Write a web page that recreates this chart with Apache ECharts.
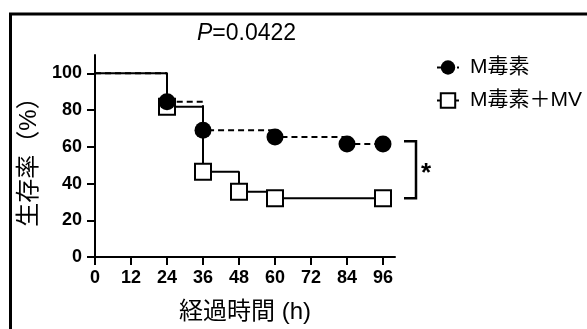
<!DOCTYPE html>
<html>
<head>
<meta charset="utf-8">
<script src="https://cdn.jsdelivr.net/npm/echarts@6/dist/echarts.min.js"></script>
<style>
  html, body { margin: 0; padding: 0; background: #fff; }
  #chart { width: 587px; height: 329px; }
</style>
</head>
<body>
<div id="chart"></div>
<script>
// survival data (hours, % survival)
const timesMtox = [0, 24, 36, 60, 84, 96];
const survMtox = [100, 84.6, 69, 65.4, 61.5, 61.5];
const timesMtoxMV = [0, 24, 36, 48, 60, 96];
const survMtoxMV = [100, 81.8, 46.4, 35.5, 32, 32];

const xTicks = [0, 12, 24, 36, 48, 60, 72, 84, 96];
const yTicks = [0, 20, 40, 60, 80, 100];
const seriesNames = ['M毒素', 'M毒素＋MV'];

const FONT = '"Liberation Sans", Arial, "Noto Sans CJK JP", sans-serif';

// first point (t=0) carries no marker
const toPoints = (ts, ys) => ts.map((t, i) => i === 0 ? { value: [t, ys[i]], symbol: 'none' } : [t, ys[i]]);

const chart = echarts.init(document.getElementById('chart'));

const option = {
  animation: false,
  title: {
    text: '{i|P}=0.0422',
    left: 192,
    top: 17,
    textStyle: {
      fontFamily: FONT,
      fontSize: 23,
      fontWeight: 'normal',
      color: '#000',
      rich: {
        i: { fontFamily: FONT, fontSize: 23, fontStyle: 'italic', color: '#000' }
      }
    }
  },
  legend: {
    data: seriesNames,
    orient: 'vertical',
    left: 431,
    top: 52,
    itemWidth: 22,
    itemHeight: 18,
    itemGap: 12,
    textStyle: { fontFamily: FONT, fontSize: 21, color: '#000', padding: [0, 0, 0, 6] }
  },
  grid: { left: 95, right: 192, top: 55, bottom: 72 },
  xAxis: {
    type: 'value',
    min: 0,
    max: 100,
    name: '経過時間 (h)',
    nameLocation: 'middle',
    nameGap: 43,
    nameTextStyle: { fontFamily: FONT, fontSize: 24, color: '#000' },
    splitLine: { show: false },
    axisLine: { lineStyle: { color: '#000', width: 2 } },
    axisTick: { customValues: xTicks, length: 8, lineStyle: { color: '#000', width: 2 } },
    axisLabel: {
      customValues: xTicks,
      margin: 12,
      fontFamily: FONT,
      fontSize: 18,
      fontWeight: 'bold',
      color: '#000'
    }
  },
  yAxis: {
    type: 'value',
    min: 0,
    max: 110,
    name: '生存率（%）',
    nameLocation: 'middle',
    nameRotate: 90,
    nameGap: 52,
    nameTextStyle: { fontFamily: FONT, fontSize: 24, color: '#000' },
    splitLine: { show: false },
    axisLine: { show: true, lineStyle: { color: '#000', width: 2 } },
    axisTick: { show: true, customValues: yTicks, length: 8, lineStyle: { color: '#000', width: 2 } },
    axisLabel: {
      customValues: yTicks,
      margin: 13,
      fontFamily: FONT,
      fontSize: 18,
      fontWeight: 'bold',
      color: '#000'
    }
  },
  series: [
    {
      name: seriesNames[0],
      type: 'line',
      step: 'end',
      z: 4,
      data: toPoints(timesMtox, survMtox),
      symbol: 'circle',
      symbolSize: 17,
      itemStyle: { color: '#000' },
      lineStyle: { color: '#000', width: 2, type: [6, 4] },
      emphasis: { disabled: true }
    },
    {
      name: seriesNames[1],
      type: 'line',
      step: 'end',
      z: 3,
      data: toPoints(timesMtoxMV, survMtoxMV),
      symbol: 'rect',
      symbolSize: 16,
      itemStyle: { color: '#fff', borderColor: '#000', borderWidth: 2 },
      lineStyle: { color: '#000', width: 2 },
      emphasis: { disabled: true }
    }
  ]
};

chart.setOption(option);

// significance bracket and frame drawn after layout
const bx = [103, 107];
const by = [63, 32];
const p1 = chart.convertToPixel({ gridIndex: 0 }, [bx[0], by[0]]);
const p2 = chart.convertToPixel({ gridIndex: 0 }, [bx[1], by[1]]);

chart.setOption({
  graphic: [
    {
      type: 'polyline',
      shape: { points: [[p1[0], p1[1]], [p2[0], p1[1]], [p2[0], p2[1]], [p1[0], p2[1]]] },
      style: { stroke: '#000', lineWidth: 2.5, fill: null }
    },
    {
      type: 'text',
      x: p2[0] + 5,
      y: (p1[1] + p2[1]) / 2 + 4,
      style: { text: '*', font: 'bold 26px ' + FONT, fill: '#000', verticalAlign: 'middle' }
    },
    {
      type: 'polyline',
      shape: { points: [[10.5, 329], [10.5, 14], [587, 14]] },
      style: { stroke: '#000', lineWidth: 3, fill: null }
    }
  ]
});
</script>
</body>
</html>
